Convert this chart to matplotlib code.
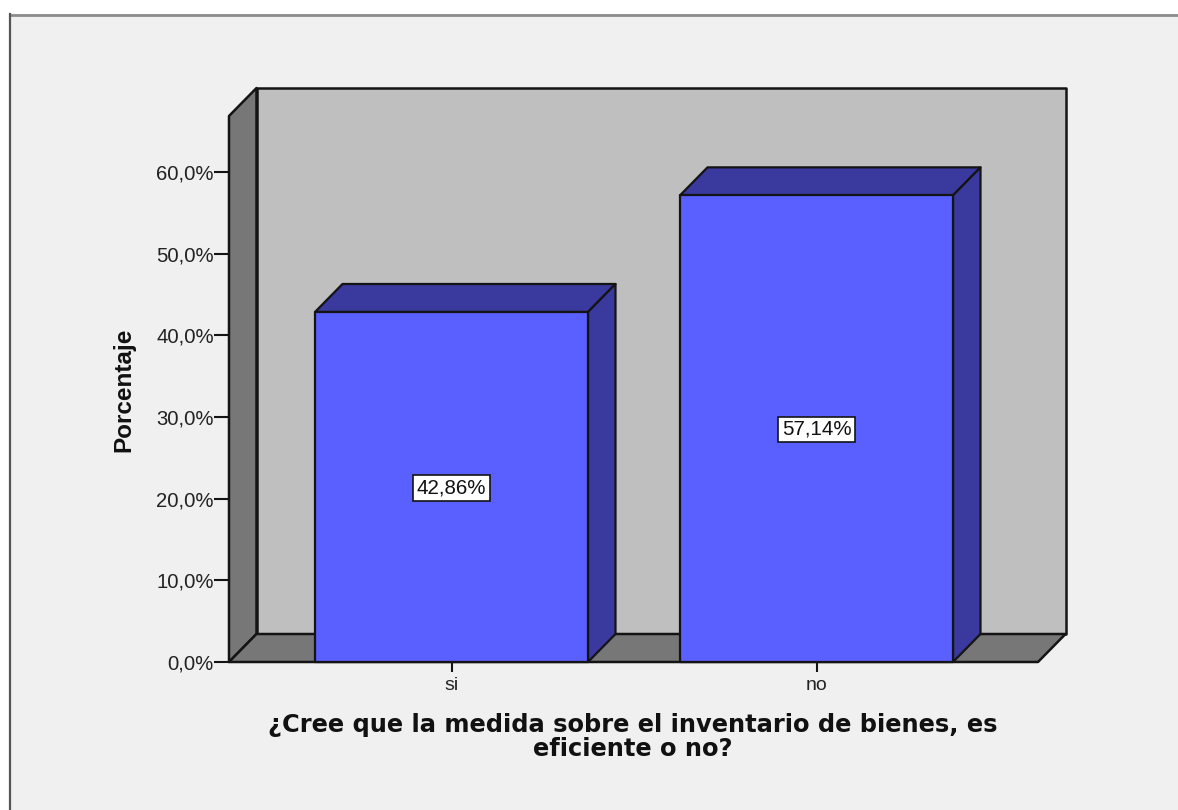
import numpy as np
import matplotlib
matplotlib.use('Agg')
import matplotlib.pyplot as plt
from matplotlib.patches import Rectangle, Polygon

categories = ['si', 'no']
percentages = [42.86, 57.14]
value_labels = ['42,86%', '57,14%']
yticks = [0, 10, 20, 30, 40, 50, 60]
ytick_labels = ['0,0%', '10,0%', '20,0%', '30,0%', '40,0%', '50,0%', '60,0%']

W, H = 1178, 810
LINE = '#141414'
DARK_GREY = '#777777'
WALL = '#bfbfbf'
BAR = '#5a5fff'
BAR_DARK = '#39399e'
PANEL = '#f0f0f0'
SANS = ['Liberation Sans', 'DejaVu Sans']


def box(left, top, right, bottom):
    # pixel box (from top left of picture) to axes rect
    return [left/W, 1-bottom/H, (right-left)/W, (bottom-top)/H]


def draw_bar(ax, x, width, value, dx, dy):
    '''
    Draw one 3D looking bar: front, top and side faces
    '''
    x0, x1 = x-width/2, x+width/2
    top = [(x0, value), (x1, value), (x1+dx, value+dy), (x0+dx, value+dy)]
    side = [(x1, 0), (x1+dx, dy), (x1+dx, value+dy), (x1, value)]
    kw = dict(edgecolor=LINE, linewidth=1.6, clip_on=False, joinstyle='round')
    ax.add_patch(Polygon(top, facecolor=BAR_DARK, zorder=3, **kw))
    ax.add_patch(Polygon(side, facecolor=BAR_DARK, zorder=3, **kw))
    ax.add_patch(Rectangle((x0, 0), width, value, facecolor=BAR, zorder=4, **kw))


def main():
    fig = plt.figure(figsize=(W/100, H/100), dpi=100, facecolor='white')
    # Grey window panel, cut off by the right and bottom of the picture
    fig.add_artist(Rectangle((10/W, 0), 1, 1-14/H, transform=fig.transFigure,
                             facecolor=PANEL, edgecolor='none', zorder=-2))
    fig.add_artist(plt.Line2D([10/W, 1], [1-14.5/H, 1-14.5/H], color='#8c8c8c',
                              lw=2, zorder=-1))
    fig.add_artist(plt.Line2D([10/W, 10/W], [0, 1-14/H], color='#555555',
                              lw=1.6, zorder=-1))

    ax = fig.add_axes(box(229, 116, 1038, 662))
    ax.patch.set_visible(False)
    for s in ax.spines.values():
        s.set_visible(False)

    # x positions: categories 365 px apart, centres at 451.5 and 816.5
    px_x = 365.0
    px_y = 490/60.0
    ax.set_xlim((229-451.5)/px_x, (1038-451.5)/px_x)
    ax.set_ylim(0, (662-116)/px_y)
    x_pos = np.arange(len(categories))
    width = 273/px_x
    dx = 27.5/px_x
    dy = 28/px_y
    x0, x1 = ax.get_xlim()
    y1 = ax.get_ylim()[1]

    kw = dict(edgecolor=LINE, linewidth=1.8, clip_on=False, joinstyle='round')
    # back wall, left wall and floor
    ax.add_patch(Polygon([(x0+dx, dy), (x1+dx, dy), (x1+dx, y1+dy), (x0+dx, y1+dy)],
                         facecolor=WALL, zorder=1, **kw))
    ax.add_patch(Polygon([(x0, 0), (x0+dx, dy), (x0+dx, y1+dy), (x0, y1)],
                         facecolor=DARK_GREY, zorder=2, **kw))
    ax.add_patch(Polygon([(x0, 0), (x1, 0), (x1+dx, dy), (x0+dx, dy)],
                         facecolor=DARK_GREY, zorder=2, **kw))

    for x, value, label in zip(x_pos, percentages, value_labels):
        draw_bar(ax, x, width, value, dx, dy)
        ax.text(x, value/2-0.1, label, ha='center', va='center', fontsize=14.8,
                family=SANS, color='#111111', zorder=6,
                bbox=dict(boxstyle='square,pad=0.16', facecolor='white',
                          edgecolor=LINE, linewidth=1.2))

    ax.set_yticks(yticks)
    ax.set_yticklabels(ytick_labels, family=SANS, fontsize=14.6, color='#222222')
    ax.set_xticks(x_pos)
    ax.set_xticklabels(categories, family=SANS, fontsize=14, color='#222222')
    ax.tick_params(axis='y', length=10.5, width=1.5, color=LINE, pad=0.5)
    ax.tick_params(axis='x', length=7.5, width=1.5, color=LINE, pad=3)

    fig.text(124/W, 1-390/H, 'Porcentaje', rotation=90, ha='center', va='center',
             family=SANS, fontsize=17.5, fontweight='bold', color='#111111')
    fig.text(633/W, 1-737/H, '¿Cree que la medida sobre el inventario de bienes, es\neficiente o no?',
             ha='center', va='center', family='DejaVu Sans', stretch='normal', fontsize=17.4,
             fontweight='bold', color='#111111', linespacing=1.0)

    fig.savefig('out.png', dpi=100, facecolor=fig.get_facecolor())
    plt.close(fig)


if __name__ == "__main__":
    main()
